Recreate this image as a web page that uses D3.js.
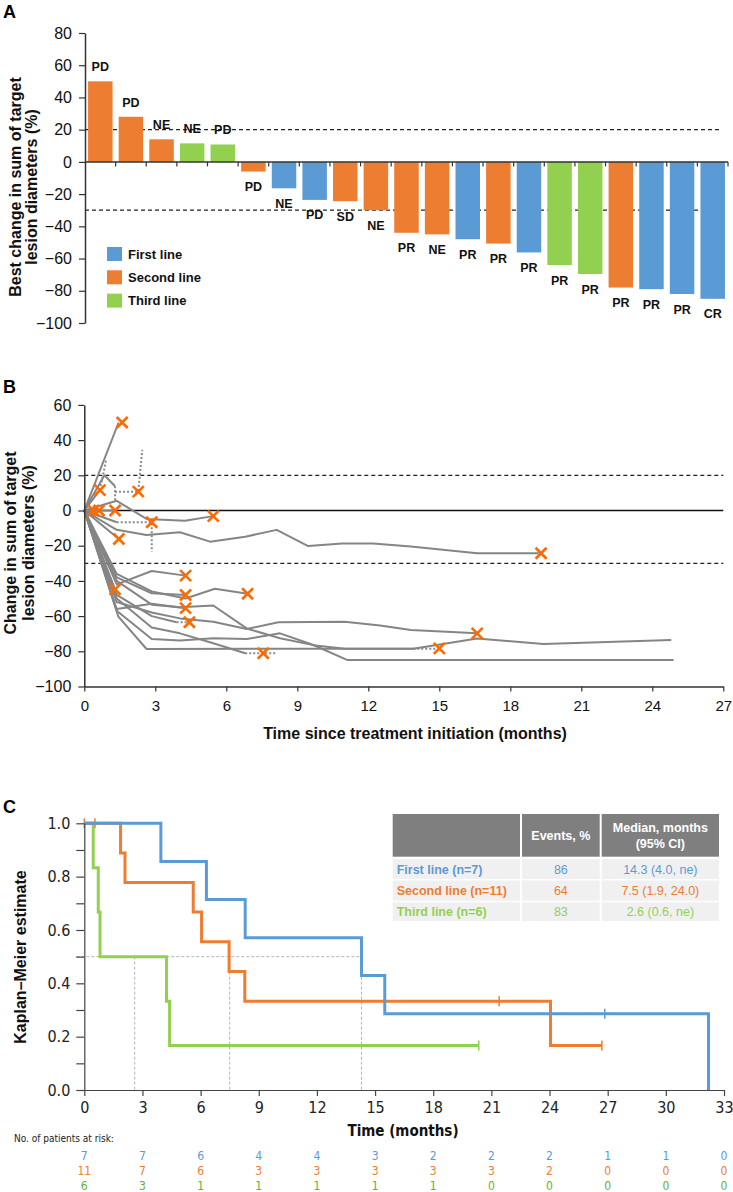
<!DOCTYPE html>
<html>
<head>
<meta charset="utf-8">
<script src="https://cdn.jsdelivr.net/npm/d3@7/dist/d3.min.js"></script>
<style>
    body { margin: 0; background: #fff; }
    svg { display: block; font-family: "Liberation Sans", Arial, Helvetica, sans-serif; }
    .narrow { font-family: "Liberation Sans Narrow", "DejaVu Sans Condensed", "Liberation Sans", Arial, sans-serif; }
</style>
</head>
<body>
<div id="chart"></div>
<script>
// ---------- Panel A: waterfall ----------
const responseLabels = ['PD', 'PD', 'NE', 'NE', 'PD', 'PD', 'NE', 'PD', 'SD', 'NE', 'PR',
    'NE', 'PR', 'PR', 'PR', 'PR', 'PR', 'PR', 'PR', 'PR', 'CR'];
const bestChange = [50, 28, 14, 11.5, 10.8, -6, -16.4, -23.6, -24.4, -30, -44,
    -45, -48, -50.7, -56.2, -64, -69.6, -78, -79, -82, -85];
const therapyLine = [1, 1, 1, 2, 2, 1, 0, 0, 1, 1, 1, 1, 0, 1, 0, 2, 2, 1, 0, 0, 0];
const lineNames = ['First line', 'Second line', 'Third line'];
const lineColors = ['#5b9bd5', '#ed7d31', '#92d050'];
const waterfallTicks = [80, 60, 40, 20, 0, -20, -40, -60, -80, -100];
const thresholds = [20, -30];

// ---------- Panel B: spider plot ----------
const spiderSolid = [
    [[0, 0], [1.45, 50]],
    [[0, 0], [0.85, 20], [1.3, 13.8]],
    [[0, 0], [0.66, 11.6]],
    [[0, 0], [0.38, 0]],
    [[0, 0], [0.62, 0]],
    [[0, 0], [1.3, 0]],
    [[0, 0], [1.37, 5.5], [2.63, -4.8], [4.25, -5.8], [5.45, -3.2]],
    [[0, 0], [1.37, -6.7]],
    [[0, 0], [1.46, -16.2]],
    [[0, 0], [1.37, -11], [2.63, -13.9], [4.04, -12.4], [5.31, -17.7], [6.8, -14.9], [8.13, -11],
        [9.46, -20.2], [10.9, -18.7], [12.2, -18.7], [13.8, -20.5], [16.6, -24.3], [19.2, -24.3]],
    [[0, 0], [1.3, -44.8]],
    [[0, 0], [1.37, -42], [2.85, -34.4], [4.28, -37]],
    [[0, 0], [1.37, -38], [2.85, -47], [4.28, -48]],
    [[0, 0], [1.37, -36], [2.85, -46], [4.28, -50], [5.52, -44.5], [6.9, -47.3]],
    [[0, 0], [1.37, -56], [2.85, -53], [4.28, -55.5]],
    [[0, 0], [1.37, -48], [2.85, -60], [3.9, -63.5]],
    [[0, 0], [1.37, -40], [2.85, -53.5], [4.04, -55], [5.45, -54], [6.86, -67], [8.27, -72.6],
        [9.68, -76.5], [11, -78.5], [13.9, -78.5], [16.6, -72.7], [19.4, -75.9], [24.8, -73.6]],
    [[0, 0], [1.37, -52], [2.85, -58], [4.04, -61.3], [5.45, -63.2], [6.86, -67.3], [8.2, -63.5],
        [11, -63.2], [12.5, -65.4], [13.8, -67.9], [16.6, -69.8]],
    [[0, 0], [1.37, -50], [2.85, -66.5], [4.04, -69.8], [5.45, -75.4], [6.8, -81.1]],
    [[0, 0], [1.37, -57], [2.85, -73], [4.04, -73.9], [5.45, -72.6], [6.86, -73], [8.27, -69.8],
        [9.68, -76.4], [11.1, -84.9], [24.9, -84.9]],
    [[0, 0], [1.44, -60.3], [2.63, -78.7], [13.9, -78.5]]
];
const spiderDotted = [
    [[1.3, 13.8], [1.3, 6]],
    [[1.3, 10.7], [2.28, 10.7], [2.45, 34.5]],
    [[0.66, 11.6], [0.92, 28.5]],
    [[1.37, -6.7], [2.85, -6.7], [2.85, -23.4]],
    [[3.9, -63.5], [4.44, -63.5]],
    [[6.8, -81.1], [8.1, -81.1]],
    [[13.9, -78.5], [14.9, -78.5]]
];
const progressionMarks = [[1.6, 50], [2.28, 10.7], [0.66, 11.6], [0.38, 0], [0.62, 0], [1.3, 0],
    [5.45, -3.2], [2.85, -6.7], [1.46, -16.2], [19.3, -24.3], [1.3, -44.8], [4.28, -37],
    [4.28, -48], [6.9, -47.3], [4.28, -55.5], [4.44, -63.5], [16.6, -69.8], [7.56, -81.1], [15, -78.3]];
const spiderTicksY = [60, 40, 20, 0, -20, -40, -60, -80, -100];
const spiderTicksX = [0, 3, 6, 9, 12, 15, 18, 21, 24, 27];

// ---------- Panel C: Kaplan-Meier ----------
const kmFirst = [[0, 1], [3.95, 0.857], [6.3, 0.714], [8.3, 0.571], [14.3, 0.429], [15.5, 0.286], [32.2, 0]];
const kmSecond = [[0, 1], [1.87, 0.889], [2.1, 0.778], [5.62, 0.667], [6.05, 0.556], [7.47, 0.444],
    [8.28, 0.333], [24.05, 0.167], [26.7, 0.167]];
const kmThird = [[0, 1], [0.46, 0.833], [0.72, 0.667], [0.81, 0.5], [4.24, 0.333], [4.4, 0.167], [20.35, 0.167]];
const censorFirst = [[26.85, 0.286]];
const censorSecond = [[0, 1], [0.55, 1], [21.4, 0.333], [26.7, 0.167]];
const censorThird = [[20.35, 0.167]];
const medianTimes = [2.6, 7.5, 14.3];
const kmTicksX = [0, 3, 6, 9, 12, 15, 18, 21, 24, 27, 30, 33];
const kmTicksY = [0, 0.1, 0.2, 0.3, 0.4, 0.5, 0.6, 0.7, 0.8, 0.9, 1.0];
const riskFirst = [7, 7, 6, 4, 4, 3, 2, 2, 2, 1, 1, 0];
const riskSecond = [11, 7, 6, 3, 3, 3, 3, 3, 2, 0, 0, 0];
const riskThird = [6, 3, 1, 1, 1, 1, 1, 0, 0, 0, 0, 0];
const tableHeader = ['', 'Events, %', 'Median, months|(95% CI)'];
const tableGroups = ['First line (n=7)', 'Second line (n=11)', 'Third line (n=6)'];
const tableEvents = ['86', '64', '83'];
const tableMedians = ['14.3 (4.0, ne)', '7.5 (1.9, 24.0)', '2.6 (0.6, ne)'];

const W = 733, H = 1192;
const svg = d3.select('#chart').append('svg')
    .attr('width', W)
    .attr('height', H)
    .attr('viewBox', `0 0 ${W} ${H}`);

function panelLetter(x, y, t) {
    svg.append('text')
        .attr('x', x).attr('y', y)
        .attr('font-size', '18px')
        .attr('font-weight', 'bold')
        .text(t);
}

function rotatedTitle(lines, xs, cy, size) {
    lines.forEach((l, i) => {
        svg.append('text')
            .attr('transform', `translate(${xs[i]},${cy}) rotate(-90)`)
            .attr('text-anchor', 'middle')
            .attr('font-size', size)
            .attr('font-weight', 'bold')
            .attr('fill', '#111')
            .text(l);
    });
}

// ================= Panel A =================
const xA = d3.scaleBand().domain(d3.range(bestChange.length)).range([85, 728])
    .paddingInner(0.2).paddingOuter(0.1);
const yA = d3.scaleLinear().domain([-100, 80]).range([323, 33]);

panelLetter(3, 18, 'A');

const gA = svg.append('g');

// threshold lines
gA.selectAll('line.thr').data(thresholds).enter().append('line')
    .attr('x1', 85).attr('x2', 722)
    .attr('y1', d => yA(d)).attr('y2', d => yA(d))
    .attr('stroke', '#222').attr('stroke-width', 1.3)
    .attr('stroke-dasharray', '4,3');

gA.selectAll('rect.bar').data(bestChange).enter().append('rect')
    .attr('x', (d, i) => xA(i))
    .attr('width', xA.bandwidth())
    .attr('y', d => d >= 0 ? yA(d) : yA(0))
    .attr('height', d => Math.abs(yA(d) - yA(0)))
    .attr('fill', (d, i) => lineColors[therapyLine[i]]);

gA.selectAll('text.lab').data(bestChange).enter().append('text')
    .attr('x', (d, i) => xA(i) + xA.bandwidth() / 2)
    .attr('y', d => d >= 0 ? yA(d) - 10 : yA(d) + 19.5)
    .attr('text-anchor', 'middle')
    .attr('font-size', '12.5px')
    .attr('font-weight', 'bold')
    .attr('fill', '#111')
    .text((d, i) => responseLabels[i]);

// zero axis with category ticks
gA.append('line')
    .attr('x1', 85).attr('x2', 728)
    .attr('y1', yA(0)).attr('y2', yA(0))
    .attr('stroke', '#333').attr('stroke-width', 1.5);
gA.selectAll('line.ctick').data(d3.range(1, bestChange.length + 1)).enter().append('line')
    .attr('x1', i => 85 + xA.step() * i)
    .attr('x2', i => 85 + xA.step() * i)
    .attr('y1', yA(0)).attr('y2', yA(0) + 4.5)
    .attr('stroke', '#333').attr('stroke-width', 1.2);

const axA = gA.append('g')
    .attr('transform', 'translate(85,0)')
    .call(d3.axisLeft(yA).tickValues(waterfallTicks).tickSize(6).tickSizeOuter(0).tickPadding(7));
axA.select('.domain').attr('stroke', '#333').attr('stroke-width', 1.5);
axA.selectAll('.tick line').attr('stroke', '#333').attr('stroke-width', 1.2);
axA.selectAll('.tick text').attr('font-size', '16px').attr('fill', '#111')
    .attr('font-family', '"Liberation Sans", Arial, sans-serif');

rotatedTitle(['Best change in sum of target', 'lesion diameters (%)'], [20.5, 37], 187, '16px');

// legend
lineNames.forEach((n, i) => {
    const ly = 247 + i * 23.3;
    gA.append('rect')
        .attr('x', 107).attr('y', ly)
        .attr('width', 15).attr('height', 14)
        .attr('fill', lineColors[i]);
    gA.append('text')
        .attr('x', 128).attr('y', ly + 11.5)
        .attr('font-size', '13px')
        .attr('font-weight', 'bold')
        .attr('fill', '#111')
        .text(n);
});

// ================= Panel B =================
const xB = d3.scaleLinear().domain([0, 27]).range([84.3, 723.3]);
const yB = d3.scaleLinear().domain([-100, 60]).range([686.5, 404.9]);

panelLetter(3, 393, 'B');
const gB = svg.append('g');

gB.selectAll('line.thrB').data(thresholds).enter().append('line')
    .attr('x1', xB(0)).attr('x2', xB(27))
    .attr('y1', d => yB(d)).attr('y2', d => yB(d))
    .attr('stroke', '#222').attr('stroke-width', 1.3)
    .attr('stroke-dasharray', '4,3');
gB.append('line')
    .attr('x1', xB(0)).attr('x2', xB(27))
    .attr('y1', yB(0)).attr('y2', yB(0))
    .attr('stroke', '#111').attr('stroke-width', 1.5);

const lineB = d3.line().x(d => xB(d[0])).y(d => yB(d[1]));

gB.selectAll('path.dot').data(spiderDotted).enter().append('path')
    .attr('d', lineB)
    .attr('fill', 'none')
    .attr('stroke', '#8a8a8a')
    .attr('stroke-width', 2)
    .attr('stroke-dasharray', '2,2');

gB.selectAll('path.pt').data(spiderSolid).enter().append('path')
    .attr('d', lineB)
    .attr('fill', 'none')
    .attr('stroke', '#858585')
    .attr('stroke-width', 2)
    .attr('stroke-linejoin', 'round');

const xs = 5.5;
const marks = gB.selectAll('g.mk').data(progressionMarks).enter().append('g')
    .attr('transform', d => `translate(${xB(d[0])},${yB(d[1])})`);
marks.append('line').attr('x1', -xs).attr('y1', -xs).attr('x2', xs).attr('y2', xs);
marks.append('line').attr('x1', -xs).attr('y1', xs).attr('x2', xs).attr('y2', -xs);
marks.selectAll('line').attr('stroke', '#ff6a00').attr('stroke-width', 2.6);

const axBy = gB.append('g')
    .attr('transform', `translate(${xB(0)},0)`)
    .call(d3.axisLeft(yB).tickValues(spiderTicksY).tickSize(6).tickSizeOuter(0).tickPadding(7));
const axBx = gB.append('g')
    .attr('transform', `translate(0,${yB(-100)})`)
    .call(d3.axisBottom(xB).tickValues(spiderTicksX).tickSize(5).tickSizeOuter(0).tickPadding(9));
[axBy, axBx].forEach(a => {
    a.select('.domain').attr('stroke', '#333').attr('stroke-width', 1.5);
    a.selectAll('.tick line').attr('stroke', '#333').attr('stroke-width', 1.2);
    a.selectAll('.tick text').attr('fill', '#111')
        .attr('font-family', '"Liberation Sans", Arial, sans-serif');
});
axBy.selectAll('.tick text').attr('font-size', '16px');
axBx.selectAll('.tick text').attr('font-size', '15px');

svg.append('text')
    .attr('x', 415).attr('y', 739)
    .attr('text-anchor', 'middle')
    .attr('font-size', '16px')
    .attr('font-weight', 'bold')
    .attr('fill', '#111')
    .text('Time since treatment initiation (months)');

rotatedTitle(['Change in sum of target', 'lesion diameters (%)'], [16, 33.5], 543, '16px');

// ================= Panel C =================
const xC = d3.scaleLinear().domain([0, 33]).range([84.3, 724]);
const yC = d3.scaleLinear().domain([0, 1]).range([1090, 823.3]);

panelLetter(3, 813, 'C');
const gC = svg.append('g');

// median guides
gC.append('line')
    .attr('x1', xC(0) - 8).attr('x2', xC(d3.max(medianTimes)))
    .attr('y1', yC(0.5)).attr('y2', yC(0.5))
    .attr('stroke', '#b5b5b5').attr('stroke-width', 1)
    .attr('stroke-dasharray', '3,2');
gC.selectAll('line.med').data(medianTimes).enter().append('line')
    .attr('x1', d => xC(d)).attr('x2', d => xC(d))
    .attr('y1', yC(0.5)).attr('y2', yC(0))
    .attr('stroke', '#b5b5b5').attr('stroke-width', 1)
    .attr('stroke-dasharray', '3,2');

const stepLine = d3.line().curve(d3.curveStepAfter).x(d => xC(d[0])).y(d => yC(d[1]));
const kmSets = [
    { data: kmThird, censor: censorThird, color: lineColors[2] },
    { data: kmSecond, censor: censorSecond, color: lineColors[1] },
    { data: kmFirst, censor: censorFirst, color: lineColors[0] }
];
kmSets.forEach(s => {
    gC.append('path')
        .attr('d', stepLine(s.data))
        .attr('fill', 'none')
        .attr('stroke', s.color)
        .attr('stroke-width', 3);
    gC.selectAll(null).data(s.censor).enter().append('line')
        .attr('x1', d => xC(d[0])).attr('x2', d => xC(d[0]))
        .attr('y1', d => yC(d[1]) - 5).attr('y2', d => yC(d[1]) + 5)
        .attr('stroke', s.color).attr('stroke-width', 1.5);
});

const axCy = gC.append('g')
    .attr('transform', `translate(${xC(0)},0)`)
    .call(d3.axisLeft(yC).tickValues(kmTicksY).tickSize(8).tickSizeOuter(0).tickPadding(6)
        .tickFormat(d => (Math.round(d * 10) % 2 === 0) ? d3.format('.1f')(d) : ''));
const axCx = gC.append('g')
    .attr('transform', `translate(0,${yC(0)})`)
    .call(d3.axisBottom(xC).tickValues(kmTicksX).tickSize(6).tickSizeOuter(0).tickPadding(6));
[axCy, axCx].forEach(a => {
    a.select('.domain').attr('stroke', '#444').attr('stroke-width', 1.2);
    a.selectAll('.tick line').attr('stroke', '#444').attr('stroke-width', 1.2);
    a.selectAll('.tick text').attr('fill', '#222').attr('font-size', '16px')
        .attr('class', 'narrow').attr('font-family', null);
});

svg.append('text')
    .attr('class', 'narrow')
    .attr('x', 403).attr('y', 1136)
    .attr('text-anchor', 'middle')
    .attr('font-size', '15px')
    .attr('font-weight', 'bold')
    .attr('fill', '#111')
    .text('Time (months)');

rotatedTitle(['Kaplan\u2013Meier estimate'], [26], 957, '16px');

// results table
const colX = [392.7, 521, 600.7, 720];
const headY = [814, 856.7];
const rowY = [858.7, 880, 901.7, 922];
const gT = gC.append('g');
[0, 1, 2].forEach(c => {
    gT.append('rect')
        .attr('x', colX[c] + (c ? 1 : 0)).attr('y', headY[0])
        .attr('width', colX[c + 1] - colX[c] - (c ? 1 : 0) - 1)
        .attr('height', headY[1] - headY[0])
        .attr('fill', '#7f7f7f');
    tableGroups.forEach((g, r) => {
        gT.append('rect')
            .attr('x', colX[c] + (c ? 1 : 0)).attr('y', rowY[r] + 0.5)
            .attr('width', colX[c + 1] - colX[c] - (c ? 1 : 0) - 1)
            .attr('height', rowY[r + 1] - rowY[r] - 1.5)
            .attr('fill', '#f0f0f0');
    });
});
tableHeader.forEach((h, c) => {
    const parts = h.split('|');
    const cx = (colX[c] + colX[c + 1]) / 2;
    parts.forEach((p, k) => {
        gT.append('text')
            .attr('x', cx)
            .attr('y', (headY[0] + headY[1]) / 2 + 4.5 + (k - (parts.length - 1) / 2) * 16)
            .attr('text-anchor', 'middle')
            .attr('font-size', '12.5px')
            .attr('font-weight', 'bold')
            .attr('fill', '#fff')
            .text(p);
    });
});
tableGroups.forEach((g, r) => {
    const cy = (rowY[r] + rowY[r + 1]) / 2 + 4.5;
    const col = lineColors[r];
    gT.append('text').attr('x', colX[0] + 4).attr('y', cy)
        .attr('font-size', '12.5px').attr('font-weight', 'bold').attr('fill', col).text(g);
    gT.append('text').attr('x', (colX[1] + colX[2]) / 2).attr('y', cy)
        .attr('text-anchor', 'middle').attr('font-size', '12.5px').attr('fill', col).text(tableEvents[r]);
    gT.append('text').attr('x', (colX[2] + colX[3]) / 2).attr('y', cy)
        .attr('text-anchor', 'middle').attr('font-size', '12.5px').attr('fill', col).text(tableMedians[r]);
});

// numbers at risk
svg.append('text')
    .attr('class', 'narrow')
    .attr('x', 14).attr('y', 1142)
    .attr('font-size', '10px')
    .attr('fill', '#222')
    .text('No. of patients at risk:');
const riskColors = ['#5b9bd5', '#ed7d31', '#6aae35'];
[riskFirst, riskSecond, riskThird].forEach((row, r) => {
    svg.selectAll(null).data(row).enter().append('text')
        .attr('class', 'narrow')
        .attr('x', (d, i) => xC(kmTicksX[i]))
        .attr('y', 1159.5 + r * 15)
        .attr('text-anchor', 'middle')
        .attr('font-size', '12px')
        .attr('fill', riskColors[r])
        .text(d => d);
});
</script>
</body>
</html>
